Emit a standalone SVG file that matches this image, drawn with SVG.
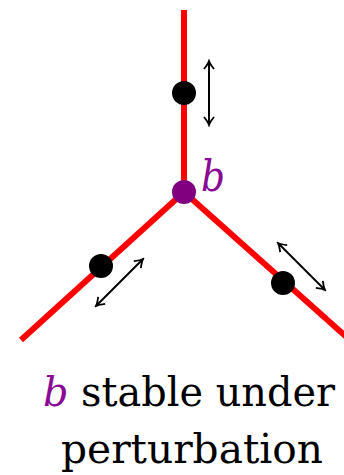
<svg xmlns="http://www.w3.org/2000/svg" width="344" height="475" viewBox="0 0 344 475">
<style>
.edge{stroke:#ff0000;stroke-width:6;fill:none}
.arr{stroke:#000;stroke-width:2;fill:none;marker-start:url(#h);marker-end:url(#h)}
.t{font-family:"DejaVu Serif",serif;font-size:43px;fill:#000}
.c{font-size:41px}
.b{font-style:italic;fill:#8a0a95}
</style>
<defs>
<marker id="h" viewBox="-10 -6 12 12" markerWidth="12" markerHeight="12" refX="0" refY="0" orient="auto-start-reverse" markerUnits="userSpaceOnUse">
<path d="M-8,-5 Q-3,-1 0,0 Q-3,1 -8,5" stroke="#000" stroke-width="1.8" fill="none"/>
</marker>
</defs>
<g id="edges">
<line class="edge" x1="184" y1="10" x2="184" y2="192"/>
<line class="edge" x1="184" y1="192" x2="21" y2="340"/>
<line class="edge" x1="184" y1="192" x2="350" y2="340"/>
</g>
<g id="arrows">
<line class="arr" x1="209" y1="61" x2="209" y2="125"/>
<line class="arr" x1="96" y1="306" x2="143" y2="259"/>
<line class="arr" x1="278" y1="243" x2="325" y2="290"/>
</g>
<g id="node-top"><circle cx="184" cy="93" r="12" fill="#000"/></g>
<g id="node-left"><circle cx="101" cy="266" r="12" fill="#000"/></g>
<g id="node-right"><circle cx="283" cy="283" r="12" fill="#000"/></g>
<g id="node-b"><circle cx="184" cy="192" r="12" fill="#800080"/>
<text class="t b" x="201" y="191" textLength="24" lengthAdjust="spacingAndGlyphs">b</text></g>
<g id="caption">
<text class="t c" x="43" y="406" textLength="292" lengthAdjust="spacingAndGlyphs"><tspan class="b">b</tspan> stable under</text>
<text class="t c" x="61" y="463" textLength="262" lengthAdjust="spacingAndGlyphs">perturbation</text>
</g>
</svg>
